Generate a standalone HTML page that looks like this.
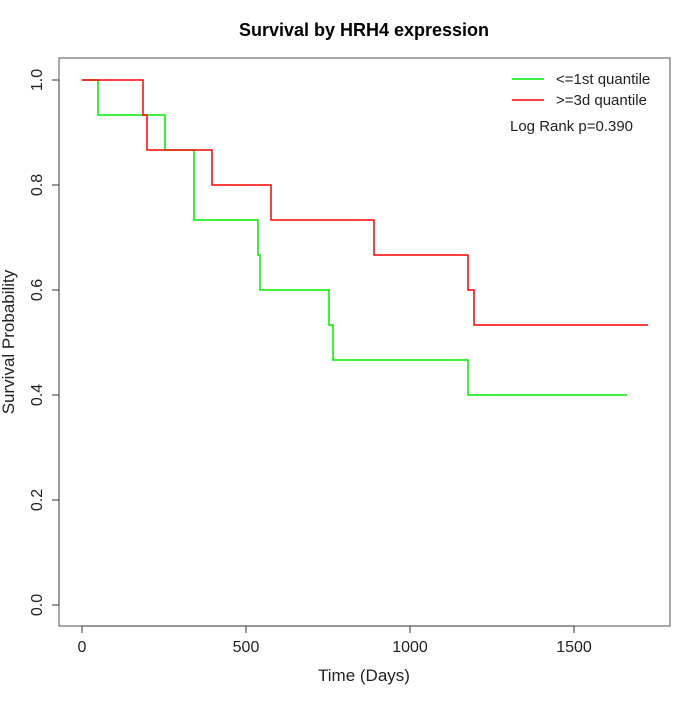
<!DOCTYPE html>
<html><head><style>body{margin:0;background:#fff}</style></head><body>
<svg width="700" height="700" xmlns="http://www.w3.org/2000/svg" font-family="Liberation Sans, sans-serif">
<rect width="700" height="700" fill="#fff"/>
<text x="364" y="36" font-size="18" font-weight="bold" text-anchor="middle">Survival by HRH4 expression</text>
<rect x="59" y="58" width="611" height="568" fill="none" stroke="#555" stroke-width="1"/>
<g stroke="#333" stroke-width="1">
<line x1="82" y1="626" x2="575" y2="626"/>
<line x1="82" y1="626" x2="82" y2="633"/><line x1="246" y1="626" x2="246" y2="633"/><line x1="410" y1="626" x2="410" y2="633"/><line x1="574" y1="626" x2="574" y2="633"/>
<line x1="59" y1="80" x2="59" y2="605"/>
<line x1="52" y1="80" x2="59" y2="80"/><line x1="52" y1="185" x2="59" y2="185"/><line x1="52" y1="290" x2="59" y2="290"/><line x1="52" y1="395" x2="59" y2="395"/><line x1="52" y1="500" x2="59" y2="500"/><line x1="52" y1="605" x2="59" y2="605"/>
</g>
<g font-size="16" text-anchor="middle" fill="#222">
<text x="82" y="652">0</text><text x="246" y="652">500</text><text x="410" y="652">1000</text><text x="574" y="652">1500</text>
<text transform="translate(42,80) rotate(-90)">1.0</text>
<text transform="translate(42,185) rotate(-90)">0.8</text>
<text transform="translate(42,290) rotate(-90)">0.6</text>
<text transform="translate(42,395) rotate(-90)">0.4</text>
<text transform="translate(42,500) rotate(-90)">0.2</text>
<text transform="translate(42,605) rotate(-90)">0.0</text>
<text x="364" y="681" font-size="17">Time (Days)</text>
<text transform="translate(14,342) rotate(-90)" font-size="17">Survival Probability</text>
</g>
<polyline fill="none" stroke="#00ee00" stroke-width="1.5" points="82,80 98,80 98,115 165,115 165,150 194,150 194,220 258,220 258,255 260,255 260,290 329,290 329,325 333,325 333,360 468,360 468,395 627,395"/>
<polyline fill="none" stroke="#ff0000" stroke-width="1.5" points="82,80 143,80 143,115 147,115 147,150 212,150 212,185 271,185 271,220 374,220 374,255 468,255 468,290 474,290 474,325 648,325"/>
<line x1="512" y1="79" x2="544" y2="79" stroke="#00ee00" stroke-width="1.5"/>
<line x1="512" y1="100" x2="544" y2="100" stroke="#ff0000" stroke-width="1.5"/>
<g font-size="15" fill="#222">
<text x="556" y="84">&lt;=1st quantile</text>
<text x="556" y="105">&gt;=3d quantile</text>
<text x="510" y="131">Log Rank p=0.390</text>
</g>
</svg>
</body></html>
